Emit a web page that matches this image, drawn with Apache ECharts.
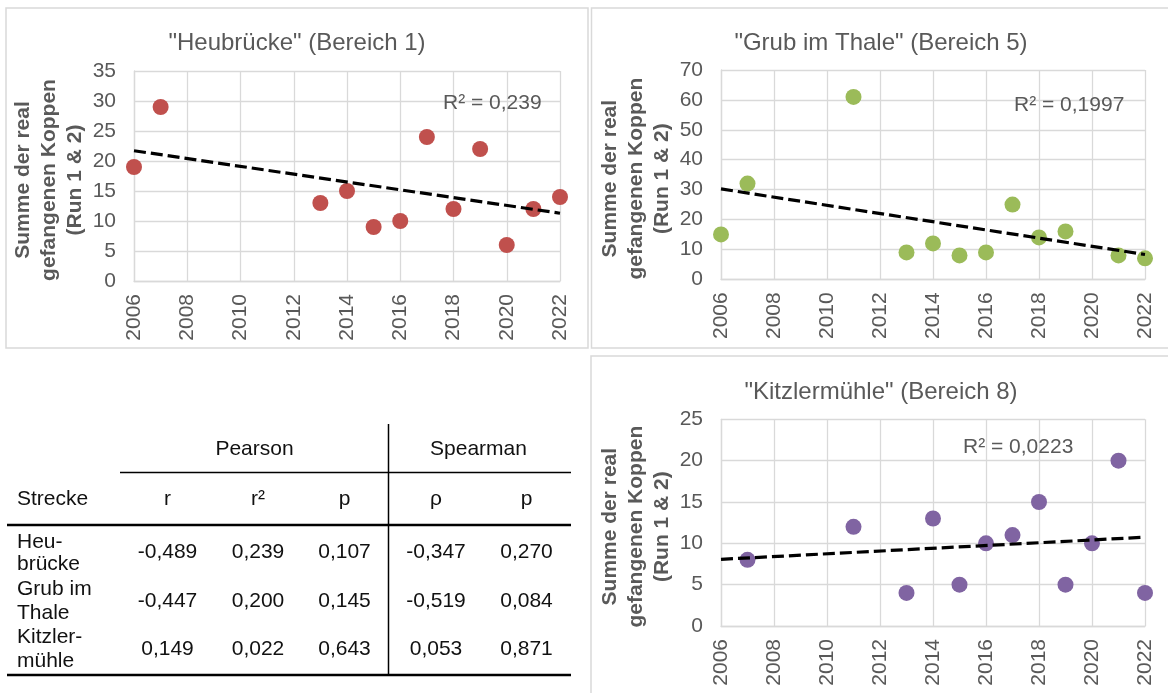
<!DOCTYPE html>
<html>
<head>
<meta charset="utf-8">
<script src="https://cdn.jsdelivr.net/npm/echarts@6/dist/echarts.min.js"></script>
<style>
html,body{margin:0;padding:0;background:#fff;}
#c{width:1168px;height:693px;}
</style>
</head>
<body>
<div id="c"></div>
<script>
// ---- chart data ----
const titles = ['"Heubrücke" (Bereich 1)', '"Grub im Thale" (Bereich 5)', '"Kitzlermühle" (Bereich 8)'];
const years1 = [2006, 2007, 2013, 2014, 2015, 2016, 2017, 2018, 2019, 2020, 2021, 2022];
const values1 = [19, 29, 13, 15, 9, 10, 24, 12, 22, 6, 12, 14];
const years2 = [2006, 2007, 2011, 2013, 2014, 2015, 2016, 2017, 2018, 2019, 2021, 2022];
const values2 = [15, 32, 61, 9, 12, 8, 9, 25, 14, 16, 8, 7];
const years3 = [2007, 2011, 2013, 2014, 2015, 2016, 2017, 2018, 2019, 2020, 2021, 2022];
const values3 = [8, 12, 4, 13, 5, 10, 11, 15, 5, 10, 20, 4];
const r2Labels = ['R² = 0,239', 'R² = 0,1997', 'R² = 0,0223'];
const yMax = [35, 70, 25];
const yStep = [5, 10, 5];
const yAxisName = 'Summe der real\ngefangenen Koppen\n(Run 1 & 2)';

// ---- table data ----
const tableGroups = ['Pearson', 'Spearman'];
const tableHeader = ['Strecke', 'r', 'r²', 'p', 'ρ', 'p'];
const tableRowNames = [['Heu-', 'brücke'], ['Grub im', 'Thale'], ['Kitzler-', 'mühle']];
const pearsonR = ['-0,489', '-0,447', '0,149'];
const pearsonR2 = ['0,239', '0,200', '0,022'];
const pearsonP = ['0,107', '0,145', '0,643'];
const spearmanRho = ['-0,347', '-0,519', '0,053'];
const spearmanP = ['0,270', '0,084', '0,871'];

// ---- helpers ----
function linReg(xs, ys) {
  const n = xs.length;
  const mx = xs.reduce((a, b) => a + b, 0) / n;
  const my = ys.reduce((a, b) => a + b, 0) / n;
  let sxy = 0, sxx = 0;
  for (let i = 0; i < n; i++) { sxy += (xs[i] - mx) * (ys[i] - my); sxx += (xs[i] - mx) ** 2; }
  const b = sxy / sxx;
  return x => my + b * (x - mx);
}

const FONT = 'Liberation Sans, Arial, sans-serif';
const GRAY = '#595959';
const GRID = '#d9d9d9';
const colors = ['#c0504d', '#9bbb59', '#8064a2'];
const xs = [years1, years2, years3];
const ys = [values1, values2, values3];

const grids = [
  { left: 134, top: 71, width: 426, height: 210 },
  { left: 721, top: 70, width: 424, height: 209.3 },
  { left: 721, top: 419.3, width: 424, height: 206.7 }
];

const xAxes = [], yAxes = [], series = [];
for (let i = 0; i < 3; i++) {
  xAxes.push({
    type: 'value', gridIndex: i, min: 2006, max: 2022, interval: 2,
    axisLine: { show: true, lineStyle: { color: GRID, width: 1.3 } },
    axisTick: { show: false },
    splitLine: { show: true, lineStyle: { color: GRID, width: 1.3 } },
    axisLabel: { rotate: 90, margin: 13, color: GRAY, fontSize: 21, fontFamily: FONT, formatter: v => String(v) }
  });
  yAxes.push({
    type: 'value', gridIndex: i, min: 0, max: yMax[i], interval: yStep[i],
    name: yAxisName, nameLocation: 'middle', nameRotate: 90, nameGap: 46,
    nameTextStyle: { color: GRAY, fontSize: 21, fontWeight: 'bold', fontFamily: FONT, lineHeight: 26, padding: [0, 8, 0, 0] },
    axisLine: { show: true, lineStyle: { color: GRID, width: 1.3 } },
    axisTick: { show: false },
    splitLine: { show: true, lineStyle: { color: GRID, width: 1.3 } },
    axisLabel: { margin: 18, color: GRAY, fontSize: 21, fontFamily: FONT }
  });
  series.push({
    type: 'scatter', xAxisIndex: i, yAxisIndex: i, symbolSize: 16,
    itemStyle: { color: colors[i], opacity: 1 },
    data: xs[i].map((x, k) => [x, ys[i][k]]),
    z: 2
  });
  const f = linReg(xs[i], ys[i]);
  series.push({
    type: 'line', xAxisIndex: i, yAxisIndex: i, symbol: 'none',
    lineStyle: { color: '#000', width: 3.2, type: [12, 5] },
    data: [[2006, f(2006)], [2022, f(2022)]],
    z: 3, silent: true
  });
}

const graphic = [];
// panel borders
[[6, 8, 582, 340], [591.5, 8, 580, 340], [591, 356, 580, 340]].forEach(r => {
  graphic.push({ type: 'rect', shape: { x: r[0], y: r[1], width: r[2], height: r[3] }, style: { fill: 'none', stroke: GRID, lineWidth: 1.5 }, z: 0 });
});
// titles
[[297, 43], [881, 43], [881, 392]].forEach((p, i) => {
  graphic.push({ type: 'text', x: p[0], y: p[1], style: { text: titles[i], fill: GRAY, font: '24px ' + FONT, align: 'center', verticalAlign: 'middle' }, z: 5 });
});
// R² labels
[[443, 103], [1014, 105], [963, 447]].forEach((p, i) => {
  graphic.push({ type: 'text', x: p[0], y: p[1], style: { text: r2Labels[i], fill: GRAY, font: '21px ' + FONT, align: 'left', verticalAlign: 'middle' }, z: 5 });
});

// table
const TF = '21px ' + FONT;
const TC = '#111';
function tText(t, x, y, align) {
  graphic.push({ type: 'text', x: x, y: y, style: { text: t, fill: TC, font: TF, align: align || 'center', verticalAlign: 'middle' }, z: 5 });
}
function tLine(x1, y1, x2, y2, w) {
  graphic.push({ type: 'line', shape: { x1: x1, y1: y1, x2: x2, y2: y2 }, style: { stroke: '#000', lineWidth: w }, z: 5 });
}
tLine(388.5, 424, 388.5, 676, 1.5);
tLine(120, 472.5, 571, 472.5, 1.5);
tLine(7, 525, 571, 525, 2.5);
tLine(7, 675, 571, 675, 2.5);
tText(tableGroups[0], 254.5, 449);
tText(tableGroups[1], 478.5, 449);
const colX = [167.5, 258, 344.5, 436, 526.5];
tText(tableHeader[0], 17, 499, 'left');
for (let c = 1; c < 6; c++) tText(tableHeader[c], colX[c - 1], 499);
const rowY = [552, 601, 649];
const nameY = [[542, 564], [589, 613], [637, 661]];
const cols = [pearsonR, pearsonR2, pearsonP, spearmanRho, spearmanP];
for (let r = 0; r < 3; r++) {
  tText(tableRowNames[r][0], 17, nameY[r][0], 'left');
  tText(tableRowNames[r][1], 17, nameY[r][1], 'left');
  for (let c = 0; c < 5; c++) tText(cols[c][r], colX[c], rowY[r]);
}

const chart = echarts.init(document.getElementById('c'), null, { renderer: 'canvas' });
chart.setOption({
  animation: false,
  backgroundColor: '#fff',
  textStyle: { fontFamily: FONT },
  grid: grids,
  xAxis: xAxes,
  yAxis: yAxes,
  series: series,
  graphic: graphic
});
</script>
</body>
</html>
